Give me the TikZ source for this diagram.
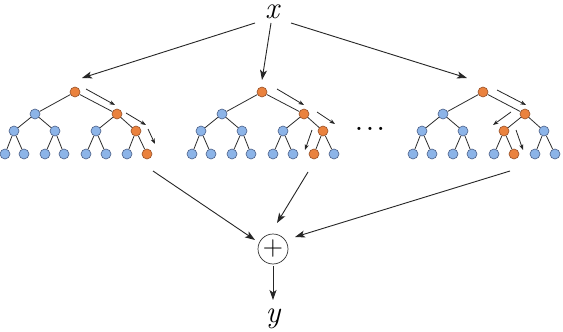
\documentclass[tikz,border=0pt]{standalone}
\usepackage{fontspec}
\usetikzlibrary{arrows.meta}
\definecolor{orf}{RGB}{234,130,62}
\definecolor{ord}{RGB}{150,80,40}
\definecolor{blf}{RGB}{140,180,232}
\definecolor{bld}{RGB}{75,95,135}
\definecolor{edg}{RGB}{45,45,45}
\tikzset{
  tn/.style={circle,minimum size=10pt,inner sep=0pt,line width=0.6pt},
  orng/.style={tn,fill=orf,draw=ord},
  blu/.style={tn,fill=blf,draw=bld},
  tedge/.style={draw=edg,line width=0.8pt},
  bigarrow/.style={draw=black!85,line width=0.9pt,-{Stealth[length=10pt,width=7pt,inset=2.5pt]}},
  smallarrow/.style={draw=black!85,line width=0.8pt,-{Stealth[length=5.5pt,width=4pt,inset=1.5pt]}},
  lbl/.style={inner sep=0pt,anchor=base}
}
% #1 name, #2 offset, #3 level2 orange (1-2), #4 level3 orange (1-4), #5 leaf orange (1-8)
\newcommand\drawtree[5]{%
  \begin{scope}[xshift=#2pt]
    \node[orng] (#1r) at (75,92) {};
    \foreach \k/\xx in {1/35,2/117}{%
      \ifnum\k=#3\relax\def\st{orng}\else\def\st{blu}\fi
      \node[\st] (#1a\k) at (\xx,114) {};}
    \foreach \k/\xx in {1/14,2/55,3/96,4/136}{%
      \ifnum\k=#4\relax\def\st{orng}\else\def\st{blu}\fi
      \node[\st] (#1b\k) at (\xx,131) {};}
    \foreach \k/\xx in {1/5,2/24,3/45,4/64,5/86,6/106,7/127,8/147}{%
      \ifnum\k=#5\relax\def\st{orng}\else\def\st{blu}\fi
      \node[\st] (#1c\k) at (\xx,154) {};}
  \end{scope}
  \foreach \k in {1,2}{\path[tedge] (#1r) -- (#1a\k);}
  \path[tedge] (#1a1) -- (#1b1); \path[tedge] (#1a1) -- (#1b2);
  \path[tedge] (#1a2) -- (#1b3); \path[tedge] (#1a2) -- (#1b4);
  \foreach \k/\p in {1/1,2/1,3/2,4/2,5/3,6/3,7/4,8/4}{\path[tedge] (#1b\p) -- (#1c\k);}
}
\begin{document}
\begin{tikzpicture}[x=1pt,y=-1pt]
  \useasboundingbox (0,0) rectangle (563,332);
  \fill[white] (0,0) rectangle (563,332);

  \drawtree{p}{0}{2}{4}{8}
  \drawtree{q}{187}{2}{4}{7}
  \drawtree{s}{408}{2}{3}{6}

  % labels
  \node[lbl] (x) at (272,19) {\fontsize{31}{32}\selectfont\itshape x};
  \node[circle,draw=black!80,line width=0.7pt,minimum size=30pt,inner sep=0pt] (plus) at (273,249) {};
  \node[inner sep=0pt] (pl) at (273,249) {\fontsize{28}{30}\selectfont +};
  \node[lbl] (y) at (273,322) {\fontsize{31}{32}\selectfont\itshape y};

  % dots
  \node[inner sep=0pt,anchor=base] (dots) at (370,130) {\fontsize{22}{24}\selectfont\bfseries .\hspace{4pt}.\hspace{4pt}.};

  % arrows from x
  \coordinate (xs1) at ([shift={(-17,4)}]x.base);
  \coordinate (xs2) at ([shift={(-1,4)}]x.base);
  \coordinate (xs3) at ([shift={(19,4)}]x.base);
  \coordinate (t1) at (82,78);
  \coordinate (t2) at (262,80);
  \coordinate (t3) at (467,78);
  \draw[bigarrow] (xs1) -- (t1);
  \draw[bigarrow] (xs2) -- (t2);
  \draw[bigarrow] (xs3) -- (t3);

  % arrows into plus
  \coordinate (u1) at (153,171); \coordinate (v1) at (255,240);
  \coordinate (u2) at (308,172); \coordinate (v2) at (277,223);
  \coordinate (u3) at (510,171); \coordinate (v3) at (295,237);
  \draw[bigarrow] (u1) -- (v1);
  \draw[bigarrow] (u2) -- (v2);
  \draw[bigarrow] (u3) -- (v3);
  \coordinate (w) at (273,300);
  \draw[bigarrow,shorten <=2pt] (plus.south) -- (w);

  % small path arrows
  \foreach \n/\a/\b/\c/\d in {
     a1/86/89/115/105, a2/126/113/146/125, a3/148/129/155/144,
     b1/277/89/304/105, b2/317/112/335/124, b3/312/130/305/150,
     c1/497/90/526/105, c2/511/112/493/125, c3/516/130/523/150}{
    \coordinate (\n s) at (\a,\b);
    \coordinate (\n e) at (\c,\d);
    \draw[smallarrow] (\n s) -- (\n e);
  }
\end{tikzpicture}
\end{document}
